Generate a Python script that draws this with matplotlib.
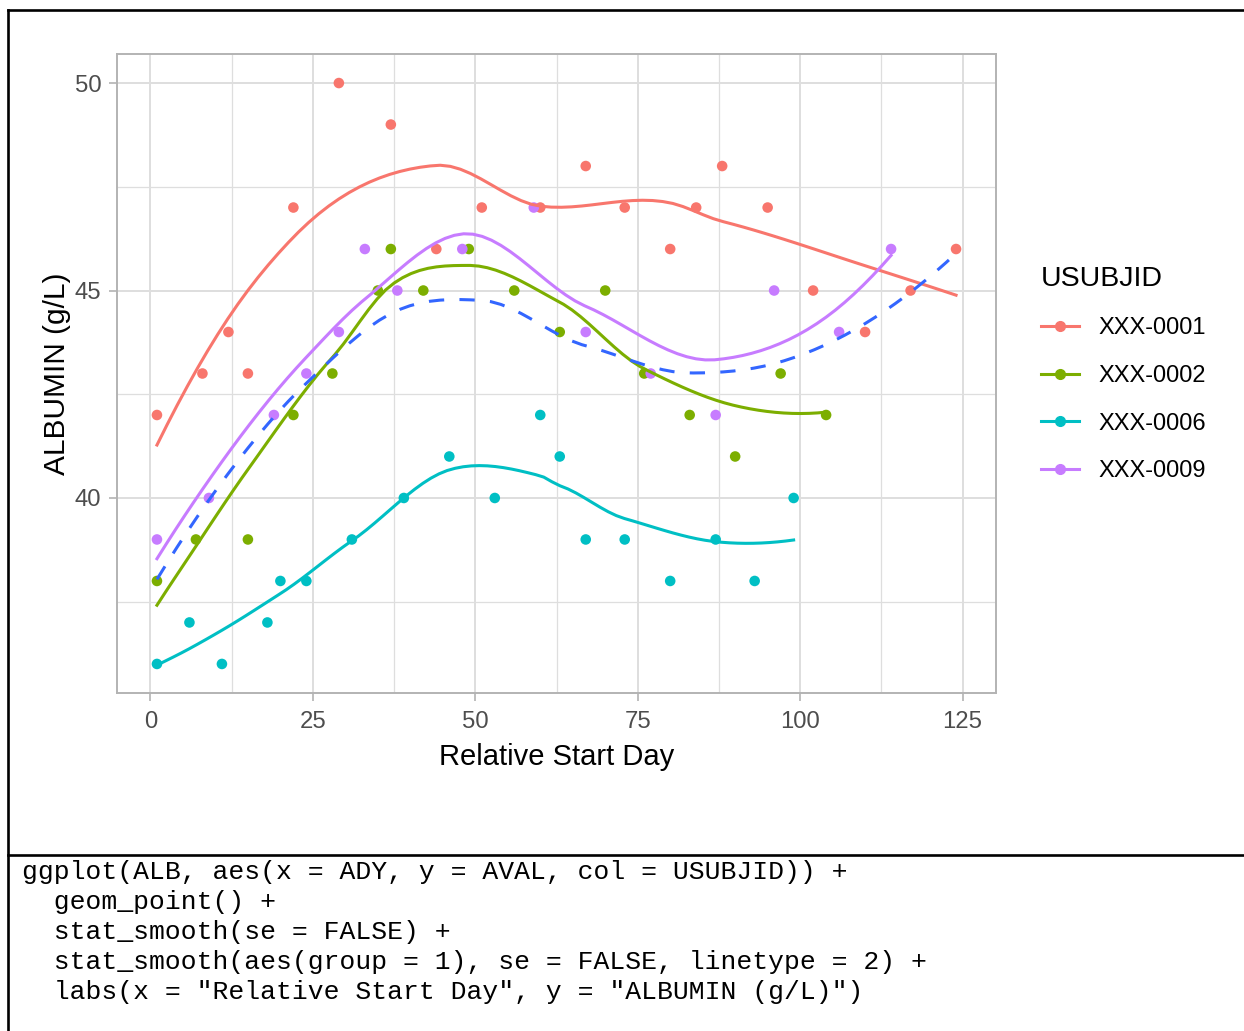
import numpy as np
import matplotlib
matplotlib.use("Agg")
import matplotlib.pyplot as plt
from matplotlib.lines import Line2D
from matplotlib.ticker import MultipleLocator

# albumin values (day, g/L) per subject
subjects = ["XXX-0001", "XXX-0002", "XXX-0006", "XXX-0009"]
colors = ["#F8766D", "#7CAE00", "#00BFC4", "#C77CFF"]

ady_0001 = [1, 8, 12, 15, 22, 29, 37, 44, 51, 60, 67, 73, 80, 84, 88, 95, 102, 110, 117, 124]
aval_0001 = [42, 43, 44, 43, 47, 50, 49, 46, 47, 47, 48, 47, 46, 47, 48, 47, 45, 44, 45, 46]

ady_0002 = [1, 7, 15, 22, 28, 35, 37, 42, 49, 56, 63, 70, 76, 83, 90, 97, 104]
aval_0002 = [38, 39, 39, 42, 43, 45, 46, 45, 46, 45, 44, 45, 43, 42, 41, 43, 42]

ady_0006 = [1, 6, 11, 18, 20, 24, 31, 39, 46, 53, 60, 63, 67, 73, 80, 87, 93, 99]
aval_0006 = [36, 37, 36, 37, 38, 38, 39, 40, 41, 40, 42, 41, 39, 39, 38, 39, 38, 40]

ady_0009 = [1, 9, 19, 24, 29, 33, 38, 48, 59, 67, 77, 87, 96, 106, 114]
aval_0009 = [39, 40, 42, 43, 44, 46, 45, 46, 47, 44, 43, 42, 45, 44, 46]

ady_all = [ady_0001, ady_0002, ady_0006, ady_0009]
aval_all = [aval_0001, aval_0002, aval_0006, aval_0009]

code_lines = [
    'ggplot(ALB, aes(x = ADY, y = AVAL, col = USUBJID)) +',
    '  geom_point() +',
    '  stat_smooth(se = FALSE) +',
    '  stat_smooth(aes(group = 1), se = FALSE, linetype = 2) +',
    '  labs(x = "Relative Start Day", y = "ALBUMIN (g/L)")',
]


def local_fit(x, y, x0, q):
    # local quadratic with tricube weights -> value and slope at x0
    d = np.abs(x - x0)
    h = np.sort(d)[q - 1]
    u = np.clip(d / h, 0, 1)
    w = np.sqrt((1 - u ** 3) ** 3)
    X = np.column_stack([np.ones(len(x)), x - x0, (x - x0) ** 2])
    beta = np.linalg.lstsq(X * w[:, None], y * w, rcond=None)[0]
    return beta[0], beta[1]


def loess(x, y, xs, span=0.75, cell=0.2):
    # R loess default (surface = "interpolate"): kd-tree vertices + cubic hermite
    x = np.asarray(x, float)
    y = np.asarray(y, float)
    n = len(x)
    q = int(np.floor(n * span))
    fc = int(np.floor(n * span * cell))
    xsort = np.sort(x)
    mu = 0.005 * max(xsort[-1] - xsort[0], 1e-10)
    verts = {xsort[0] - mu, xsort[-1] + mu}

    def split(l, u, vlo, vhi):
        if u - l + 1 <= fc:
            return
        m = (l + u) // 2
        off = 0
        while l <= m + off < u:
            if xsort[m + off] == xsort[m + off + 1]:
                off = -off
                if off >= 0:
                    off += 1
            else:
                m = m + off
                break
        t = xsort[m]
        if t == vlo or t == vhi:
            return
        verts.add(t)
        split(l, m, vlo, t)
        split(m + 1, u, t, vhi)

    split(0, n - 1, xsort[0] - mu, xsort[-1] + mu)
    vx = np.array(sorted(verts))
    fits = np.array([local_fit(x, y, v, q) for v in vx])
    out = []
    for x0 in xs:
        i = min(max(np.searchsorted(vx, x0) - 1, 0), len(vx) - 2)
        a, b = vx[i], vx[i + 1]
        hh = b - a
        t = (x0 - a) / hh
        h00 = 2 * t ** 3 - 3 * t ** 2 + 1
        h10 = t ** 3 - 2 * t ** 2 + t
        h01 = -2 * t ** 3 + 3 * t ** 2
        h11 = t ** 3 - t ** 2
        out.append(h00 * fits[i, 0] + h10 * hh * fits[i, 1]
                   + h01 * fits[i + 1, 0] + h11 * hh * fits[i + 1, 1])
    return np.array(out)


plt.rcParams['font.family'] = ['Liberation Sans', 'DejaVu Sans']

fig = plt.figure(figsize=(12.44, 10.31), dpi=100)
ax = fig.add_axes([117 / 1244, 1 - 693 / 1031, (996 - 117) / 1244, (693 - 54) / 1031])

for xs, ys, c in zip(ady_all, aval_all, colors):
    ax.scatter(xs, ys, s=58, color=c, edgecolors='none', zorder=3)

for xs, ys, c in zip(ady_all, aval_all, colors):
    grid = np.linspace(min(xs), max(xs), 80)
    ax.plot(grid, loess(xs, ys, grid), color=c, lw=2.2, zorder=4)

x_pool = np.concatenate([np.array(v, float) for v in ady_all])
y_pool = np.concatenate([np.array(v, float) for v in aval_all])
grid = np.linspace(x_pool.min(), x_pool.max(), 80)
ax.plot(grid, loess(x_pool, y_pool, grid), color="#3366FF", lw=2.2,
        dashes=(5, 5), zorder=5)

# scales with ggplot's 5% expansion
xr = x_pool.max() - x_pool.min()
yr = y_pool.max() - y_pool.min()
ax.set_xlim(x_pool.min() - 0.05 * xr, x_pool.max() + 0.05 * xr)
ax.set_ylim(y_pool.min() - 0.05 * yr, y_pool.max() + 0.05 * yr)

ax.xaxis.set_major_locator(MultipleLocator(25))
ax.xaxis.set_minor_locator(MultipleLocator(12.5))
ax.yaxis.set_major_locator(MultipleLocator(5))
ax.yaxis.set_minor_locator(MultipleLocator(2.5))
ax.grid(which='major', color='#DEDEDE', lw=1.4, zorder=0)
ax.grid(which='minor', color='#DEDEDE', lw=0.9, zorder=0)
ax.set_axisbelow(True)
for sp in ax.spines.values():
    sp.set_color('#B3B3B3')
    sp.set_linewidth(1.4)
ax.tick_params(which='major', length=5.8, width=1.2, color='#B3B3B3',
               labelsize=17.2, labelcolor='#4D4D4D', pad=5.5)
ax.tick_params(axis='x', which='major', pad=7)
ax.tick_params(which='minor', length=0)

ax.set_xlabel("Relative Start Day", fontsize=21, color='black', labelpad=7.5)
ax.set_ylabel("ALBUMIN (g/L)", fontsize=21.5, color='black', labelpad=3)

handles = [Line2D([], [], color=c, lw=2.2, marker='o', markersize=7) for c in colors]
leg = ax.legend(handles, subjects, title="USUBJID", loc='upper left',
                bbox_to_anchor=(1041 / 1244, 1 - 266 / 1031),
                bbox_transform=fig.transFigure, frameon=False,
                fontsize=17, title_fontsize=20.5, handlelength=1.6,
                handletextpad=0.85, labelspacing=1.08, borderpad=0,
                borderaxespad=0, alignment='left')

# frame around chart and code panel
lw_box = 1.9
fig.add_artist(Line2D([8 / 1244, 1], [1 - 10 / 1031] * 2, color='black', lw=lw_box))
fig.add_artist(Line2D([8 / 1244] * 2, [0, 1 - 10 / 1031], color='black', lw=lw_box))
fig.add_artist(Line2D([8 / 1244, 1], [1 - 855 / 1031] * 2, color='black', lw=lw_box))

for i, line in enumerate(code_lines):
    fig.text(22 / 1244, 1 - (872 + 30 * i) / 1031, line, family='Liberation Mono',
             fontsize=19, va='center', ha='left', color='black')

fig.savefig("out.png", dpi=100)
